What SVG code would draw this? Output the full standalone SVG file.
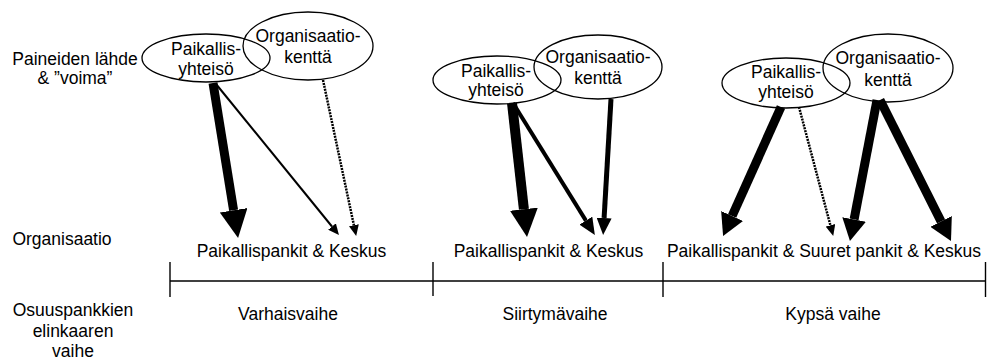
<svg xmlns="http://www.w3.org/2000/svg" width="987" height="361" viewBox="0 0 987 361">
<style>
text{font-family:"Liberation Sans",Arial,sans-serif;font-size:17.5px;fill:#000;text-anchor:middle}
.el{fill:none;stroke:#000;stroke-width:1.3}
.ar{stroke:#000;fill:none;stroke-linecap:butt}
.dot{stroke-dasharray:2 1}
.tl{stroke:#000;stroke-width:1.4}
</style>
<defs>
<marker id="hXL" markerUnits="userSpaceOnUse" viewBox="0 0 28 28" markerWidth="28" markerHeight="28" refX="0" refY="14" orient="auto"><path d="M0,0L28,14L0,28Z" fill="#000"/></marker>
<marker id="hL" markerUnits="userSpaceOnUse" viewBox="0 0 22 24" markerWidth="22" markerHeight="24" refX="0" refY="12" orient="auto"><path d="M0,0L22,12L0,24Z" fill="#000"/></marker>
<marker id="hM" markerUnits="userSpaceOnUse" viewBox="0 0 17 15" markerWidth="17" markerHeight="15" refX="0" refY="7.5" orient="auto"><path d="M0,0L17,7.5L0,15Z" fill="#000"/></marker>
<marker id="hS" markerUnits="userSpaceOnUse" viewBox="0 0 11 10" markerWidth="11" markerHeight="10" refX="0" refY="5" orient="auto"><path d="M0,0L11,5L0,10Z" fill="#000"/></marker>
</defs>

<g id="row-labels">
<text x="75" y="65">Paineiden lähde</text>
<text x="75" y="84">&amp; ”voima”</text>
<text x="62" y="245">Organisaatio</text>
<text x="73" y="316">Osuuspankkien</text>
<text x="73" y="336.5">elinkaaren</text>
<text x="73" y="357">vaihe</text>
</g>

<g id="s1-paikallisyhteiso">
<ellipse class="el" cx="206" cy="58" rx="64" ry="24"/>
<text x="206" y="55">Paikallis-</text>
<text x="206" y="74.5">yhteisö</text>
</g>
<g id="s1-organisaatiokentta">
<ellipse class="el" cx="308" cy="46" rx="65" ry="34"/>
<text x="308" y="42">Organisaatio-</text>
<text x="308" y="63">kenttä</text>
</g>
<g id="s1-org">
<text x="291.5" y="256.5">Paikallispankit &amp; Keskus</text>
</g>

<g id="s2-paikallisyhteiso">
<ellipse class="el" cx="497" cy="80" rx="64" ry="24"/>
<text x="496" y="76.5">Paikallis-</text>
<text x="496" y="96">yhteisö</text>
</g>
<g id="s2-organisaatiokentta">
<ellipse class="el" cx="598" cy="67" rx="64" ry="32"/>
<text x="598" y="62.5">Organisaatio-</text>
<text x="598" y="84">kenttä</text>
</g>
<g id="s2-org">
<text x="548.5" y="256.5">Paikallispankit &amp; Keskus</text>
</g>

<g id="s3-paikallisyhteiso">
<ellipse class="el" cx="786" cy="83" rx="64" ry="25"/>
<text x="786" y="77.5">Paikallis-</text>
<text x="786" y="97.5">yhteisö</text>
</g>
<g id="s3-organisaatiokentta">
<ellipse class="el" cx="888" cy="68" rx="65" ry="34"/>
<text x="888" y="64">Organisaatio-</text>
<text x="888" y="85.5">kenttä</text>
</g>
<g id="s3-org">
<text x="824" y="256.5">Paikallispankit &amp; Suuret pankit &amp; Keskus</text>
</g>

<g id="timeline">
<line class="tl" x1="170" y1="281" x2="986" y2="281"/>
<line class="tl" x1="170" y1="262" x2="170" y2="297"/>
<line class="tl" x1="433" y1="262" x2="433" y2="296"/>
<line class="tl" x1="663" y1="262" x2="663" y2="297"/>
<line class="tl" x1="985.5" y1="262" x2="985.5" y2="297"/>
<text x="288" y="320">Varhaisvaihe</text>
<text x="555" y="320">Siirtymävaihe</text>
<text x="833" y="320">Kypsä vaihe</text>
</g>

<g id="connectors">
<line class="ar" x1="213" y1="83" x2="233.6" y2="210.3" stroke-width="9" marker-end="url(#hXL)"/>
<line class="ar" x1="216" y1="84" x2="332" y2="226.5" stroke-width="2" marker-end="url(#hS)"/>
<line class="ar dot" x1="323" y1="80" x2="353.9" y2="225.2" stroke-width="2.5" marker-end="url(#hS)"/>

<line class="ar" x1="512" y1="103" x2="523.9" y2="209.2" stroke-width="10" marker-end="url(#hXL)"/>
<line class="ar" x1="513" y1="103" x2="585.9" y2="220.6" stroke-width="4" marker-end="url(#hM)"/>
<line class="ar" x1="611" y1="99" x2="604.1" y2="218" stroke-width="5" marker-end="url(#hM)"/>

<line class="ar" x1="781" y1="107" x2="732.1" y2="216" stroke-width="9" marker-end="url(#hL)"/>
<line class="ar dot" x1="799" y1="107" x2="830.4" y2="225.3" stroke-width="2.5" marker-end="url(#hS)"/>
<line class="ar" x1="877" y1="100" x2="854.1" y2="219.4" stroke-width="9" marker-end="url(#hL)"/>
<line class="ar" x1="880" y1="100" x2="941.1" y2="221.4" stroke-width="9" marker-end="url(#hL)"/>
</g>
</svg>
